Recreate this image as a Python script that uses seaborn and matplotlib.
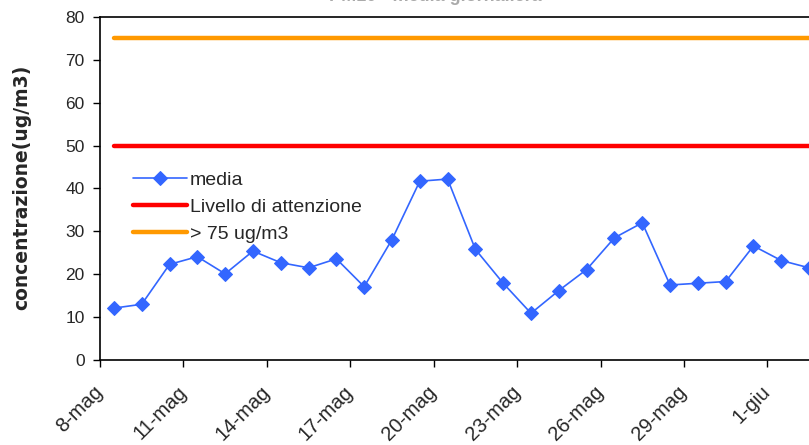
import pandas as pd
import seaborn as sns
import matplotlib.pyplot as plt
from matplotlib.transforms import ScaledTranslation

# daily values (8 May - 2 June)
giorni = pd.date_range("2008-05-08", "2008-06-02", freq="D")
media = [12.1, 13.0, 22.3, 24.1, 20.1, 25.4, 22.7, 21.5, 23.6, 17.1,
         28.1, 41.7, 42.2, 25.8, 17.9, 10.9, 16.2, 21.1, 28.5, 32.0,
         17.5, 17.9, 18.3, 26.6, 23.2, 21.5]
livello_attenzione = 50
soglia = 75
tick_labels = ["8-mag", "11-mag", "14-mag", "17-mag", "20-mag",
               "23-mag", "26-mag", "29-mag", "1-giu"]

sns.set_style("ticks")
plt.rcParams['font.family'] = ['Liberation Sans', 'DejaVu Sans']

df = pd.DataFrame({"giorno": giorni + pd.Timedelta(hours=12), "media": media})
df["Livello di attenzione"] = livello_attenzione
df["> 75 ug/m3"] = soglia

fig = plt.figure(figsize=(8.09, 4.45), dpi=100)
ax = fig.add_axes([100 / 809, 85 / 445, 723 / 809, 343 / 445])

sns.lineplot(data=df, x="giorno", y="media", color="#3366FF", linewidth=1.2,
             marker="D", markersize=7, markeredgecolor="#3366FF",
             label="media", ax=ax)
sns.lineplot(data=df, x="giorno", y="Livello di attenzione", color="#FF0000",
             linewidth=3.2, solid_capstyle="round",
             label="Livello di attenzione", ax=ax)
sns.lineplot(data=df, x="giorno", y="> 75 ug/m3", color="#FF9900",
             linewidth=3.2, solid_capstyle="round",
             label="> 75 ug/m3", ax=ax)

ax.set_xlim(giorni[0], giorni[-1] + pd.Timedelta(days=1))
ax.set_ylim(0, 80)
ax.set_yticks(range(0, 81, 10))
ax.set_xticks(giorni[::3])
ax.set_xticklabels(tick_labels, rotation=45, ha="right", va="center",
                   rotation_mode="anchor")
offset = ScaledTranslation(17 / 100, 0, fig.dpi_scale_trans)
for lbl in ax.get_xticklabels():
    lbl.set_transform(lbl.get_transform() + offset)
ax.tick_params(axis="both", length=5, width=1, color="black")
ax.tick_params(axis="y", pad=6, labelsize=12.5)
ax.tick_params(axis="x", pad=16, labelsize=14.5)
ax.set_xlabel("")
ax.set_ylabel("")
for side in ["left", "bottom", "top", "right"]:
    ax.spines[side].set_color("black")
    ax.spines[side].set_linewidth(1.2)

fig.text(22 / 809, 0.578, "concentrazione(ug/m3)", rotation=90,
         ha="center", va="center", fontsize=13.5, fontweight="bold",
         family="DejaVu Sans")
fig.text(435 / 809, 1 - 1 / 445, "PM10 - media giornaliera", color="#aaaaaa",
         ha="center", va="baseline", fontsize=13, fontweight="bold")

ax.legend(loc="upper left", bbox_to_anchor=(0.045, 0.55), frameon=False,
          fontsize=14, handlelength=2.8, handletextpad=0.15, labelspacing=0.48,
          borderpad=0, borderaxespad=0)

plt.savefig("out.png", dpi=100)
